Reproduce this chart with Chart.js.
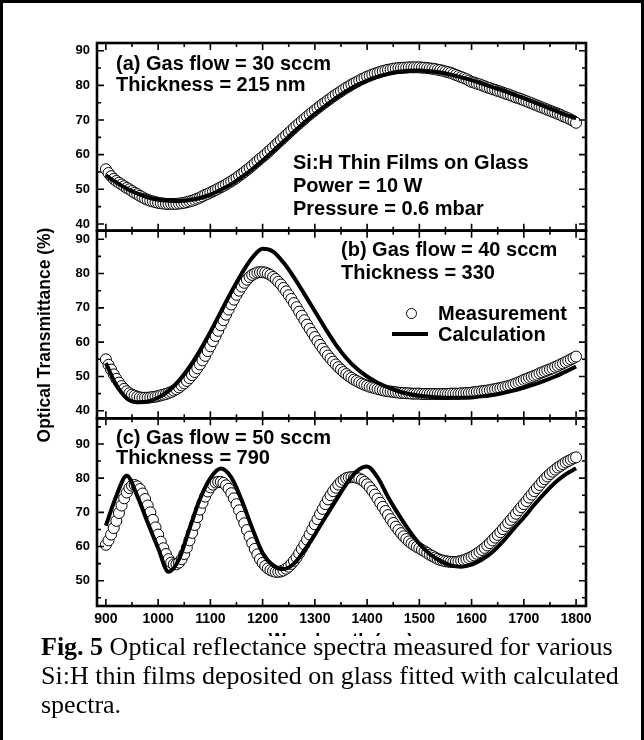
<!DOCTYPE html>
<html>
<head>
<meta charset="utf-8">
<script src="https://cdn.jsdelivr.net/npm/chart.js@4.4.1/dist/chart.umd.min.js"></script>
<style>
  body { margin: 0; background: #fff; }
  #page { position: relative; width: 644px; height: 740px; overflow: hidden; font-family: "Liberation Sans", Arial, sans-serif; color: #000; }
  #frame { position: absolute; left: 0; top: 0; width: 638px; height: 740px; border: 3px solid #000; border-bottom: none; }
  #chart { position: absolute; left: 0; top: 0; }
  .note { position: absolute; font-weight: bold; font-size: 20px; white-space: nowrap; }
  #ytitle { position: absolute; left: -86px; top: 324px; width: 260px; height: 22px; line-height: 22px; text-align: center;
            font-weight: bold; font-size: 17.5px; transform: rotate(-90deg); white-space: nowrap; }
  #xtitle { position: absolute; left: 241px; top: 629px; width: 200px; text-align: center; font-weight: bold; font-size: 18px; line-height: 22px; }
  #caption { position: absolute; left: 3px; top: 636px; width: 638px; height: 104px; background: #fff; }
  #caption div { position: relative; left: 38px; top: -4px; font-family: "Liberation Serif", "Times New Roman", serif; font-size: 26px; line-height: 29px; white-space: nowrap; }
  .legCircle { position: absolute; width: 11px; height: 11px; box-sizing: border-box; border: 1px solid #000; border-radius: 50%; background: #fff; }
  .legLine { position: absolute; height: 4px; background: #000; }
</style>
</head>
<body>
<div id="page">
  <canvas id="chart" width="644" height="640"></canvas>
  <div id="frame"></div>

  <div class="note" style="left:116px;top:53px;line-height:21px">(a) Gas flow = 30 sccm<br>Thickness = 215 nm</div>
  <div class="note" style="left:293px;top:151px;line-height:23px">Si:H Thin Films on Glass<br>Power = 10 W<br>Pressure = 0.6 mbar</div>
  <div class="note" style="left:341px;top:238px;line-height:22.6px">(b) Gas flow = 40 sccm<br>Thickness = 330</div>
  <div class="legCircle" style="left:406px;top:308px"></div>
  <div class="legLine" style="left:392px;top:332px;width:36px"></div>
  <div class="note" style="left:438px;top:303px;line-height:21px">Measurement</div>
  <div class="note" style="left:438px;top:323.5px;line-height:21px">Calculation</div>
  <div class="note" style="left:116px;top:427px;line-height:20px">(c) Gas flow = 50 sccm<br>Thickness = 790</div>

  <div id="ytitle">Optical Transmittance (%)</div>
  <div id="xtitle">Wavelength (nm)</div>
  <div id="caption"><div><b>Fig. 5</b> Optical reflectance spectra measured for various<br>Si:H thin films deposited on glass fitted with calculated<br>spectra.</div></div>
</div>

<script>
// wavelengths (nm): measurements every 5 nm, calculation every 20 nm
const measWavelength = [
  900, 905, 910, 915, 920, 925, 930, 935, 940, 945,
  950, 955, 960, 965, 970, 975, 980, 985, 990, 995,
  1000, 1005, 1010, 1015, 1020, 1025, 1030, 1035, 1040, 1045,
  1050, 1055, 1060, 1065, 1070, 1075, 1080, 1085, 1090, 1095,
  1100, 1105, 1110, 1115, 1120, 1125, 1130, 1135, 1140, 1145,
  1150, 1155, 1160, 1165, 1170, 1175, 1180, 1185, 1190, 1195,
  1200, 1205, 1210, 1215, 1220, 1225, 1230, 1235, 1240, 1245,
  1250, 1255, 1260, 1265, 1270, 1275, 1280, 1285, 1290, 1295,
  1300, 1305, 1310, 1315, 1320, 1325, 1330, 1335, 1340, 1345,
  1350, 1355, 1360, 1365, 1370, 1375, 1380, 1385, 1390, 1395,
  1400, 1405, 1410, 1415, 1420, 1425, 1430, 1435, 1440, 1445,
  1450, 1455, 1460, 1465, 1470, 1475, 1480, 1485, 1490, 1495,
  1500, 1505, 1510, 1515, 1520, 1525, 1530, 1535, 1540, 1545,
  1550, 1555, 1560, 1565, 1570, 1575, 1580, 1585, 1590, 1595,
  1600, 1605, 1610, 1615, 1620, 1625, 1630, 1635, 1640, 1645,
  1650, 1655, 1660, 1665, 1670, 1675, 1680, 1685, 1690, 1695,
  1700, 1705, 1710, 1715, 1720, 1725, 1730, 1735, 1740, 1745,
  1750, 1755, 1760, 1765, 1770, 1775, 1780, 1785, 1790, 1795,
  1800
];
const calcWavelength = [
  900, 920, 940, 960, 980, 1000, 1020, 1040, 1060, 1080,
  1100, 1120, 1140, 1160, 1180, 1200, 1220, 1240, 1260, 1280,
  1300, 1320, 1340, 1360, 1380, 1400, 1420, 1440, 1460, 1480,
  1500, 1520, 1540, 1560, 1580, 1600, 1620, 1640, 1660, 1680,
  1700, 1720, 1740, 1760, 1780, 1800
];

// (a) 30 sccm, 215 nm
const measA = [
  55.8, 54.7, 53.8, 53.0, 52.4, 51.9, 51.4, 50.9, 50.4, 50.0,
  49.5, 49.0, 48.6, 48.1, 47.7, 47.3, 47.0, 46.7, 46.5, 46.3,
  46.1, 46.0, 45.9, 45.8, 45.8, 45.8, 45.8, 45.8, 45.9, 46.0,
  46.1, 46.3, 46.5, 46.7, 47.0, 47.3, 47.6, 48.0, 48.4, 48.7,
  49.1, 49.4, 49.8, 50.2, 50.6, 51.0, 51.4, 51.9, 52.3, 52.8,
  53.3, 53.9, 54.4, 55.0, 55.6, 56.2, 56.8, 57.5, 58.1, 58.8,
  59.4, 60.0, 60.7, 61.4, 62.1, 62.8, 63.5, 64.2, 64.9, 65.6,
  66.3, 67.0, 67.7, 68.4, 69.0, 69.7, 70.3, 71.0, 71.6, 72.2,
  72.8, 73.4, 74.0, 74.6, 75.1, 75.7, 76.2, 76.8, 77.3, 77.8,
  78.3, 78.8, 79.3, 79.7, 80.2, 80.6, 81.0, 81.4, 81.8, 82.1,
  82.5, 82.8, 83.1, 83.4, 83.6, 83.9, 84.1, 84.3, 84.5, 84.6,
  84.8, 84.9, 85.0, 85.0, 85.1, 85.1, 85.2, 85.2, 85.2, 85.2,
  85.2, 85.1, 85.1, 85.0, 84.9, 84.8, 84.7, 84.5, 84.4, 84.2,
  84.0, 83.8, 83.6, 83.3, 83.0, 82.7, 82.4, 82.1, 81.8, 81.4,
  81.0, 80.8, 80.5, 80.3, 80.0, 79.7, 79.4, 79.2, 78.9, 78.7,
  78.4, 78.2, 77.9, 77.6, 77.4, 77.1, 76.8, 76.5, 76.3, 76.0,
  75.7, 75.4, 75.1, 74.8, 74.5, 74.2, 73.9, 73.6, 73.3, 73.0,
  72.7, 72.4, 72.1, 71.8, 71.5, 71.1, 70.8, 70.5, 70.1, 69.7,
  69.2
];
const calcA = [
  54.0, 52.0, 50.2, 48.8, 47.7, 47.0, 46.7, 46.6, 46.9, 47.5,
  48.5, 49.9, 51.5, 53.5, 55.8, 58.3, 61.0, 63.8, 66.6, 69.3,
  71.8, 74.1, 76.3, 78.3, 80.0, 81.4, 82.5, 83.3, 83.9, 84.2,
  84.3, 84.1, 83.7, 83.1, 82.3, 81.5, 80.5, 79.5, 78.5, 77.4,
  76.3, 75.1, 73.9, 72.7, 71.5, 70.5
];

// (b) 40 sccm, 330 nm
const measB = [
  55.0, 53.4, 52.0, 50.6, 49.3, 48.2, 47.2, 46.4, 45.7, 45.1,
  44.7, 44.4, 44.1, 43.9, 43.8, 43.8, 43.8, 43.9, 44.0, 44.1,
  44.3, 44.5, 44.7, 44.9, 45.2, 45.5, 45.9, 46.3, 46.8, 47.4,
  48.0, 48.7, 49.5, 50.4, 51.3, 52.4, 53.5, 54.7, 56.0, 57.4,
  58.8, 60.3, 61.8, 63.3, 64.9, 66.4, 68.0, 69.5, 71.0, 72.4,
  73.8, 75.0, 76.2, 77.3, 78.2, 79.0, 79.6, 80.0, 80.3, 80.4,
  80.4, 80.3, 80.0, 79.6, 79.0, 78.4, 77.6, 76.8, 75.8, 74.8,
  73.7, 72.6, 71.4, 70.2, 68.9, 67.7, 66.4, 65.1, 63.9, 62.7,
  61.5, 60.3, 59.2, 58.1, 57.1, 56.1, 55.2, 54.3, 53.5, 52.7,
  52.0, 51.3, 50.7, 50.1, 49.6, 49.1, 48.7, 48.3, 47.9, 47.6,
  47.3, 47.0, 46.8, 46.6, 46.4, 46.2, 46.0, 45.8, 45.7, 45.6,
  45.5, 45.4, 45.3, 45.2, 45.2, 45.1, 45.1, 45.0, 45.0, 45.0,
  45.0, 44.9, 44.9, 44.9, 44.9, 44.9, 44.9, 44.9, 44.9, 44.9,
  44.9, 44.9, 45.0, 45.0, 45.0, 45.0, 45.1, 45.1, 45.2, 45.2,
  45.3, 45.4, 45.5, 45.6, 45.7, 45.8, 45.9, 46.0, 46.2, 46.3,
  46.5, 46.6, 46.8, 47.0, 47.2, 47.4, 47.7, 48.0, 48.3, 48.6,
  49.0, 49.3, 49.6, 49.9, 50.2, 50.5, 50.9, 51.2, 51.5, 51.8,
  52.1, 52.4, 52.8, 53.1, 53.5, 53.8, 54.2, 54.6, 55.0, 55.4,
  55.8
];
const calcB = [
  53.9, 47.5, 43.6, 42.5, 42.7, 43.8, 45.8, 48.8, 52.8, 57.6,
  63.0, 68.8, 74.6, 80.0, 84.6, 87.2, 86.4, 83.2, 78.9, 74.0,
  69.0, 64.0, 59.3, 55.4, 52.3, 50.0, 48.2, 46.8, 45.7, 44.9,
  44.4, 44.1, 43.9, 43.8, 43.8, 43.9, 44.2, 44.6, 45.2, 45.9,
  46.7, 47.7, 48.8, 50.0, 51.4, 52.9
];

// (c) 50 sccm, 790 nm
const measC = [
  60.5, 61.8, 63.5, 65.4, 67.5, 69.8, 72.0, 74.1, 75.8, 77.1,
  77.8, 78.0, 77.6, 76.8, 75.5, 73.9, 72.0, 70.0, 67.8, 65.6,
  63.5, 61.4, 59.5, 57.8, 56.3, 55.3, 54.8, 54.8, 55.3, 56.3,
  57.8, 59.7, 61.8, 64.0, 66.3, 68.6, 70.8, 72.8, 74.6, 76.1,
  77.3, 78.1, 78.7, 78.9, 78.9, 78.6, 77.9, 76.9, 75.6, 74.1,
  72.4, 70.6, 68.7, 66.8, 64.8, 62.9, 61.0, 59.3, 57.7, 56.3,
  55.2, 54.3, 53.6, 53.1, 52.8, 52.6, 52.6, 52.7, 53.0, 53.5,
  54.1, 54.9, 55.8, 56.8, 58.0, 59.3, 60.6, 62.0, 63.5, 65.0,
  66.5, 68.0, 69.5, 71.0, 72.4, 73.8, 75.0, 76.2, 77.2, 78.1,
  78.9, 79.5, 80.0, 80.2, 80.3, 80.3, 80.1, 79.9, 79.5, 78.9,
  78.2, 77.3, 76.3, 75.2, 74.0, 72.8, 71.6, 70.4, 69.2, 68.0,
  66.9, 65.8, 64.8, 63.9, 63.0, 62.2, 61.5, 60.9, 60.4, 59.9,
  59.5, 59.0, 58.6, 58.1, 57.6, 57.2, 56.8, 56.4, 56.1, 55.9,
  55.7, 55.6, 55.5, 55.5, 55.5, 55.6, 55.8, 56.0, 56.3, 56.6,
  57.0, 57.4, 57.9, 58.4, 59.0, 59.6, 60.3, 61.0, 61.8, 62.6,
  63.4, 64.2, 65.1, 66.0, 66.9, 67.8, 68.7, 69.6, 70.6, 71.5,
  72.4, 73.3, 74.3, 75.2, 76.2, 77.1, 78.0, 78.9, 79.7, 80.5,
  81.2, 81.9, 82.5, 83.1, 83.6, 84.1, 84.6, 85.0, 85.4, 85.8,
  86.1
];
const calcC = [
  66.1, 74.8, 80.7, 74.8, 67.0, 59.5, 52.6, 56.3, 65.2, 73.8,
  80.0, 82.8, 80.2, 73.5, 65.4, 58.1, 54.5, 53.4, 55.0, 58.9,
  63.5, 68.5, 73.4, 78.2, 82.0, 83.4, 80.2, 74.5, 69.4, 64.8,
  60.8, 57.8, 55.8, 54.5, 54.1, 54.7, 56.2, 58.4, 61.5, 65.1,
  68.5, 72.2, 75.6, 78.7, 81.1, 82.9
];

// tick labels
const xTicks = [900, 1000, 1100, 1200, 1300, 1400, 1500, 1600, 1700, 1800];
const yTicksA = [40, 50, 60, 70, 80, 90];
const yTicksB = [40, 50, 60, 70, 80, 90];
const yTicksC = [50, 60, 70, 80, 90];

function pairs(xs, ys) {
  return xs.map((x, i) => ({ x: x, y: ys[i] }));
}

function measSet(ys, axis) {
  return {
    label: 'Measurement',
    data: pairs(measWavelength, ys),
    yAxisID: axis,
    showLine: false,
    pointRadius: 5.5,
    pointBorderWidth: 1,
    pointBorderColor: '#000',
    pointBackgroundColor: '#fff',
    order: 1
  };
}

function calcSet(ys, axis) {
  return {
    label: 'Calculation',
    data: pairs(calcWavelength, ys),
    yAxisID: axis,
    showLine: true,
    borderColor: '#000',
    borderWidth: 4,
    pointRadius: 0,
    cubicInterpolationMode: 'monotone',
    order: 0
  };
}

const tickFont = { family: '"Liberation Sans", Arial, sans-serif', size: 13, weight: 'bold' };

function panelAxis(min, max, tickList, weight) {
  return {
    type: 'linear',
    position: 'left',
    stack: 'panels',
    stackWeight: 1,
    weight: weight,
    min: min,
    max: max,
    grid: { display: false, drawTicks: false },
    border: { display: false },
    ticks: { color: '#000', font: tickFont, padding: 7 },
    afterBuildTicks: s => { s.ticks = tickList.map(v => ({ value: v })); },
    afterFit: s => { s.width = 97; }
  };
}

// frames with inward ticks on all four sides of every panel
const framePlugin = {
  id: 'frames',
  afterDraw(chart) {
    const { ctx, chartArea: area, scales } = chart;
    const xs = scales.x;
    ctx.save();
    ctx.strokeStyle = '#000';
    ['ya', 'yb', 'yc'].forEach(id => {
      const ys = scales[id];
      ctx.lineWidth = 1.6;
      ctx.beginPath();
      for (let v = Math.ceil(ys.min / 5) * 5; v <= ys.max; v += 5) {
        const py = ys.getPixelForValue(v);
        const len = v % 10 === 0 ? 7 : 4;
        ctx.moveTo(area.left, py); ctx.lineTo(area.left + len, py);
        ctx.moveTo(area.right, py); ctx.lineTo(area.right - len, py);
      }
      for (let v = 900; v <= 1800; v += 50) {
        const px = xs.getPixelForValue(v);
        const len = v % 100 === 0 ? 7 : 4;
        ctx.moveTo(px, ys.top); ctx.lineTo(px, ys.top + len);
        ctx.moveTo(px, ys.bottom); ctx.lineTo(px, ys.bottom - len);
      }
      ctx.stroke();
      ctx.lineWidth = 2.6;
      ctx.strokeRect(area.left, ys.top, area.right - area.left, ys.bottom - ys.top);
    });
    ctx.restore();
  }
};

new Chart(document.getElementById('chart'), {
  type: 'line',
  data: {
    datasets: [
      measSet(measA, 'ya'), calcSet(calcA, 'ya'),
      measSet(measB, 'yb'), calcSet(calcB, 'yb'),
      measSet(measC, 'yc'), calcSet(calcC, 'yc')
    ]
  },
  options: {
    responsive: false,
    animation: false,
    devicePixelRatio: 1,
    layout: { padding: { left: 0, right: 58, top: 43, bottom: 0 } },
    plugins: { legend: { display: false }, tooltip: { enabled: false } },
    scales: {
      x: {
        type: 'linear',
        position: 'bottom',
        min: 883,
        max: 1819,
        grid: { display: false, drawTicks: false },
        border: { display: false },
        ticks: {
          color: '#000',
          font: { family: tickFont.family, size: 14, weight: 'bold' },
          padding: 5,
          maxRotation: 0,
          callback: v => String(v)
        },
        afterBuildTicks: s => { s.ticks = xTicks.map(v => ({ value: v })); },
        afterFit: s => { s.height = 34; }
      },
      ya: panelAxis(38.07, 92.22, yTicksA, 3),
      yb: panelAxis(37.8, 92.5, yTicksB, 2),
      yc: panelAxis(42.6, 97.5, yTicksC, 1)
    }
  },
  plugins: [framePlugin]
});
</script>
</body>
</html>
